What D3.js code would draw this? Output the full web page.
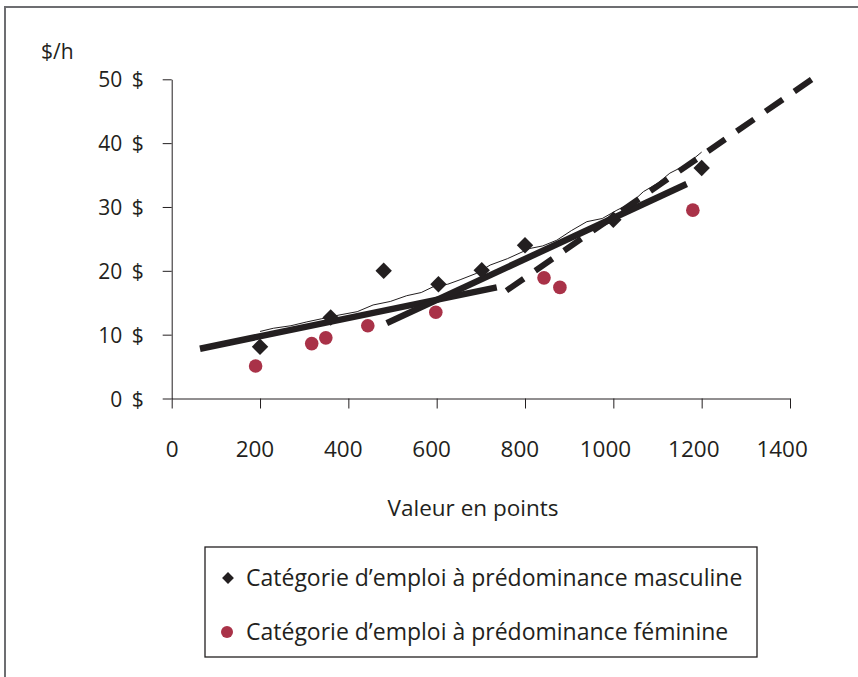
<!DOCTYPE html>
<html>
<head>
<meta charset="utf-8">
<script src="https://cdn.jsdelivr.net/npm/d3@7"></script>
<style>
  html, body { margin: 0; padding: 0; background: #fff; }
  svg { display: block; font-family: "Open Sans", "Noto Sans", sans-serif; }
</style>
</head>
<body>
<svg id="chart" width="858" height="677"></svg>
<script>
// ---------- data ----------
const xTicks = [0, 200, 400, 600, 800, 1000, 1200, 1400];
const yTicks = [0, 10, 20, 30, 40, 50];

const maleX = [200, 360, 480, 604, 702, 800, 1000, 1200];
const maleY = [8.1, 12.7, 20.0, 17.9, 20.1, 24.0, 28.0, 36.1];

const femaleX = [190, 317, 349, 444, 598, 843, 879, 1180];
const femaleY = [5.1, 8.6, 9.5, 11.4, 13.5, 18.9, 17.4, 29.5];

// trend lines
const trendAX = [64, 736];   const trendAY = [7.8, 17.4];   // solid, lower range
const trendBX = [487, 1166]; const trendBY = [11.8, 33.6];  // solid, upper range
const trendCX = [758, 1460]; const trendCY = [16.9, 50.5];  // dashed
// thin curve
const curveX = [200, 230, 270, 306, 340, 381, 420, 456, 495, 532, 565, 592, 625, 653, 690, 721, 760, 811, 840, 872, 905, 940, 975, 1008, 1040, 1068, 1100, 1128, 1165, 1200];
const curveY = [10.5, 11.0, 11.4, 12.0, 12.5, 13.1, 13.6, 14.65, 15.2, 16.1, 16.6, 17.5, 17.9, 18.6, 19.6, 20.9, 21.9, 23.5, 23.9, 24.8, 26.3, 27.7, 28.2, 29.5, 30.6, 32.4, 33.7, 35.3, 36.6, 38.6];

const legendLabels = [
  "Catégorie d\u2019emploi à prédominance masculine",
  "Catégorie d\u2019emploi à prédominance féminine"
];
const yTitle = "$/h";
const xTitle = "Valeur en points";

// ---------- drawing ----------
const ink = "#231f20";
const red = "#a93248";
const svg = d3.select("#chart");

// frame
svg.append("path").attr("d", "M5,677 V7 H858").attr("fill", "none")
  .attr("stroke", "#6d6e71").attr("stroke-width", 2);

const x = d3.scaleLinear().domain([0, 1400]).range([171.7, 790]);
const y = d3.scaleLinear().domain([0, 50]).range([398.5, 79.3]);

// y axis
const gy = svg.append("g").attr("transform", `translate(${x(0)},0)`)
  .call(d3.axisLeft(y).tickValues(yTicks).tickSize(9).tickSizeOuter(0).tickPadding(19)
        .tickFormat(d => d + " $"));
gy.selectAll("path, line").attr("stroke", ink);
gy.selectAll("text").attr("font-size", 21).attr("fill", ink).attr("dy", "0.36em")
  .attr("font-family", "Open Sans").attr("word-spacing", 4);

// x axis
const gx = svg.append("g").attr("transform", `translate(0,${y(0)})`)
  .call(d3.axisBottom(x).tickValues(xTicks).tickSize(10).tickSizeOuter(0).tickPadding(33)
        .tickFormat(d => String(d)));
gx.selectAll("path, line").attr("stroke", ink);
gx.selectAll("text").attr("font-size", 22.5).attr("fill", ink)
  .attr("font-family", "Open Sans")
  .attr("dx", d => -(String(d).length - 1) * 2.8);

// titles
svg.append("text").attr("x", 41).attr("y", 59).attr("font-size", 21).attr("fill", ink).text(yTitle);
svg.append("text").attr("x", 473).attr("y", 516).attr("text-anchor", "middle")
  .attr("font-size", 22.5).attr("fill", ink).text(xTitle);

// lines
const line = d3.line().x(d => x(d[0])).y(d => y(d[1]));
svg.append("path").datum(d3.zip(curveX, curveY)).attr("d", line)
  .attr("fill", "none").attr("stroke", ink).attr("stroke-width", 1);
svg.append("path").datum(d3.zip(trendAX, trendAY)).attr("d", line)
  .attr("fill", "none").attr("stroke", ink).attr("stroke-width", 6.5);
svg.append("path").datum(d3.zip(trendBX, trendBY)).attr("d", line)
  .attr("fill", "none").attr("stroke", ink).attr("stroke-width", 6.5);
svg.append("path").datum(d3.zip(trendCX, trendCY)).attr("d", line)
  .attr("fill", "none").attr("stroke", ink).attr("stroke-width", 6)
  .attr("stroke-dasharray", "21 14");

// markers
const diamond = d3.symbol().type(d3.symbolSquare).size(135);
svg.append("g").selectAll("path").data(d3.zip(maleX, maleY)).join("path")
  .attr("d", diamond)
  .attr("transform", d => `translate(${x(d[0])},${y(d[1])}) rotate(45)`)
  .attr("fill", ink);
svg.append("g").selectAll("circle").data(d3.zip(femaleX, femaleY)).join("circle")
  .attr("cx", d => x(d[0])).attr("cy", d => y(d[1])).attr("r", 6.8)
  .attr("fill", red);

// legend
const lg = svg.append("g");
lg.append("rect").attr("x", 205).attr("y", 547).attr("width", 552).attr("height", 110)
  .attr("fill", "#fff").attr("stroke", ink).attr("stroke-width", 1.3);
const rows = [
  {label: legendLabels[0], type: "diamond", cy: 578},
  {label: legendLabels[1], type: "circle", cy: 632}
];
rows.forEach(r => {
  if (r.type === "diamond") {
    lg.append("path").attr("d", d3.symbol().type(d3.symbolSquare).size(70))
      .attr("transform", `translate(228,${r.cy}) rotate(45)`).attr("fill", ink);
  } else {
    lg.append("circle").attr("cx", 227).attr("cy", r.cy).attr("r", 6).attr("fill", red);
  }
  lg.append("text").attr("x", 246).attr("y", r.cy + 8).attr("font-size", 23)
    .attr("fill", ink).text(r.label);
});
</script>
</body>
</html>
